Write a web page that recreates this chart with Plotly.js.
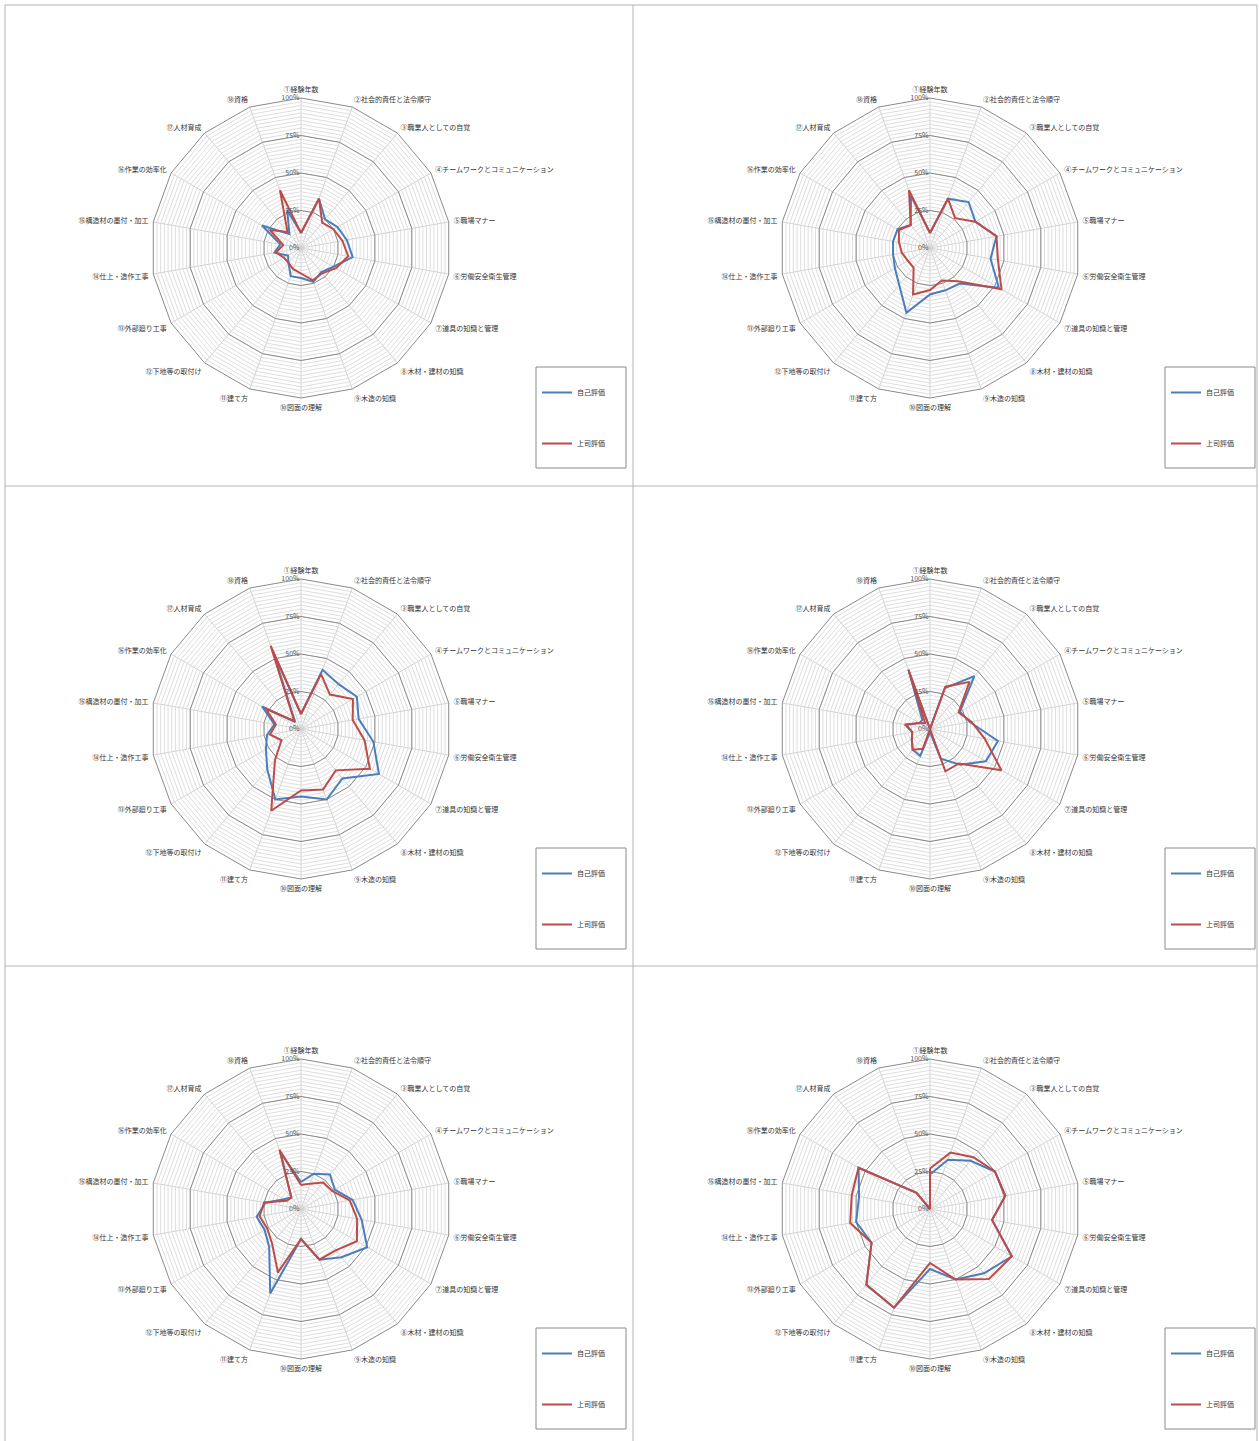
<!DOCTYPE html>
<html>
<head>
<meta charset="utf-8">
<script src="https://cdn.plot.ly/plotly-3.0.1.min.js"></script>
<style>
html,body{margin:0;padding:0;background:#fff;}
#chart{width:1259px;height:1441px;}
</style>
</head>
<body>
<div id="chart"></div>
<script>
// ---- data ----
const categories = ['①経験年数','②社会的責任と法令順守','③職業人としての自覚','④チームワークとコミュニケーション','⑤職場マナー','⑥労働安全衛生管理','⑦道具の知識と管理','⑧木材・建材の知識','⑨木造の知識','⑩図面の理解','⑪建て方','⑫下地等の取付け','⑬外部廻り工事','⑭仕上・造作工事','⑮構造材の墨付・加工','⑯作業の効率化','⑰人材育成','⑱資格'];
const seriesNames = ['自己評価','上司評価'];
const radialTickVals = [0, 25, 50, 75, 100];
const radialTickText = ['0%', '25%', '50%', '75%', '100%'];

const selfEval1 = [10, 35, 25, 28, 31, 35, 25, 21, 24, 20, 20, 13, 10, 18, 14, 30, 12, 27];
const bossEval1 = [10, 35, 22, 25, 28, 32, 27, 22, 23, 17, 15, 13, 13, 17, 12, 24, 14, 41];

const selfEval2 = [10, 35, 40, 35, 45, 41, 53, 31, 30, 31, 46, 32, 27, 25, 25, 25, 20, 37];
const bossEval2 = [10, 35, 26, 35, 45, 46, 55, 29, 23, 28, 33, 17, 17, 19, 21, 24, 20, 41];

const selfEval3 = [10, 42, 39, 43, 39, 49, 60, 43, 50, 45, 50, 35, 27, 23, 18, 30, 6, 55];
const bossEval3 = [10, 39, 30, 40, 35, 43, 53, 36, 43, 41, 58, 27, 15, 21, 17, 27, 7, 59];

const selfEval4 = [0, 29, 46, 23, 27, 46, 43, 31, 21, 2, 19, 18, 14, 12, 16, 8, 8, 42];
const bossEval4 = [0, 30, 41, 22, 28, 37, 55, 30, 30, 0, 14, 18, 14, 12, 17, 8, 5, 42];

const selfEval5 = [18, 25, 30, 26, 35, 41, 51, 42, 36, 20, 60, 33, 28, 30, 24, 13, 10, 40];
const bossEval5 = [16, 18, 23, 24, 33, 38, 43, 36, 36, 20, 45, 30, 26, 28, 25, 11, 10, 42];

const selfEval6 = [23, 35, 42, 50, 51, 42, 63, 56, 50, 40, 70, 66, 45, 50, 48, 55, 14, 0];
const bossEval6 = [27, 40, 45, 50, 51, 42, 63, 61, 50, 36, 70, 66, 45, 54, 53, 55, 14, 0];

const selfSets = [selfEval1, selfEval2, selfEval3, selfEval4, selfEval5, selfEval6];
const bossSets = [bossEval1, bossEval2, bossEval3, bossEval4, bossEval5, bossEval6];

// ---- layout geometry (pixels) ----
const W = 1259, H = 1441, R = 150;
const centers = [[301,248],[930,248],[301,729],[930,729],[301,1209],[930,1209]];
const FONT = '"Noto Sans CJK JP", "Noto Sans", sans-serif';
const BLUE = '#4a7ebb', RED = '#be4b48';

const px = x => x / W;
const py = y => 1 - y / H;
const close = arr => arr.concat([arr[0]]);
const thetaClosed = close(categories);
const polarKey = n => n === 1 ? 'polar' : 'polar' + n;

const data = [];
const layout = {
  width: W, height: H,
  margin: {l:0, r:0, t:0, b:0},
  paper_bgcolor: '#fff',
  font: {family: FONT, size: 7, color: '#404040'},
  showlegend: true,
  shapes: [],
};

centers.forEach(([cx, cy], k) => {
  const minorId = polarKey(2*k + 1);
  const majorId = polarKey(2*k + 2);
  const dom = {x: [px(cx - R), px(cx + R)], y: [py(cy + R), py(cy - R)]};
  const angCommon = {
    type: 'category', categoryarray: categories, categoryorder: 'array',
    rotation: 90, direction: 'clockwise'
  };
  layout[minorId] = {
    domain: dom, gridshape: 'linear', bgcolor: '#fff',
    radialaxis: {range: [0, 100], dtick: 2.5, tick0: 0, showticklabels: false, ticks: '',
                 showline: false, gridcolor: '#dedede', gridwidth: 1, angle: 90},
    angularaxis: Object.assign({}, angCommon, {ticks: '', showgrid: true, gridcolor: '#d2d2d2',
                 showline: false, showticklabels: false})
  };
  layout[majorId] = {
    domain: dom, gridshape: 'linear', bgcolor: 'rgba(0,0,0,0)',
    radialaxis: {range: [0, 100], tickvals: radialTickVals, ticktext: radialTickText,
                 ticks: '', showline: false, gridcolor: '#8a8a8a', gridwidth: 1,
                 angle: 90, side: 'counterclockwise', tickangle: 90,
                 tickfont: {size: 7, color: '#555', family: FONT}},
    angularaxis: Object.assign({}, angCommon, {showgrid: false, showline: true,
                 linecolor: '#8a8a8a', linewidth: 1,
                 ticks: 'outside', ticklen: 3, tickcolor: 'rgba(0,0,0,0)',
                 tickfont: {size: 7, color: '#333', family: FONT}})
  };
  // helper (invisible) trace so the minor-grid subplot knows its categories
  data.push({type: 'scatterpolar', subplot: minorId, theta: thetaClosed, r: close(selfSets[k]),
             mode: 'lines', line: {width: 0}, opacity: 0, hoverinfo: 'skip', showlegend: false});
  const legId = k === 0 ? 'legend' : 'legend' + (k + 1);
  data.push({type: 'scatterpolar', subplot: majorId, name: seriesNames[0], theta: thetaClosed,
             r: close(selfSets[k]), mode: 'lines', line: {color: BLUE, width: 2},
             legend: legId, legendgroup: 's' + k + 'a'});
  data.push({type: 'scatterpolar', subplot: majorId, name: seriesNames[1], theta: thetaClosed,
             r: close(bossSets[k]), mode: 'lines', line: {color: RED, width: 2},
             legend: legId, legendgroup: 's' + k + 'b'});
  // legend box
  const lx = cx + 235, ly = cy + 119;
  layout.shapes.push({type: 'rect', xref: 'paper', yref: 'paper',
    x0: px(lx), x1: px(lx + 90), y0: py(ly + 101), y1: py(ly),
    line: {color: '#8a8a8a', width: 1}, fillcolor: 'rgba(0,0,0,0)'});
  layout[legId] = {
    x: px(lx + 1), y: py(ly + 11), xanchor: 'left', yanchor: 'top',
    bgcolor: 'rgba(0,0,0,0)', borderwidth: 0,
    font: {size: 7, color: '#333', family: FONT},
    traceorder: 'grouped', tracegroupgap: 32, itemwidth: 30
  };
});

// panel frame lines
const frameColor = '#b4b4b4';
[[5,5,1257,5],[5,5,5,1441],[1257,5,1257,1441],[633,5,633,1441],[5,486,1257,486],[5,966,1257,966]]
  .forEach(([x0,y0,x1,y1]) => layout.shapes.push({type:'line', xref:'paper', yref:'paper',
    x0: px(x0), y0: py(y0), x1: px(x1), y1: py(y1), line: {color: frameColor, width: 1}}));

Plotly.newPlot('chart', data, layout, {displayModeBar: false, staticPlot: true});
</script>
</body>
</html>
